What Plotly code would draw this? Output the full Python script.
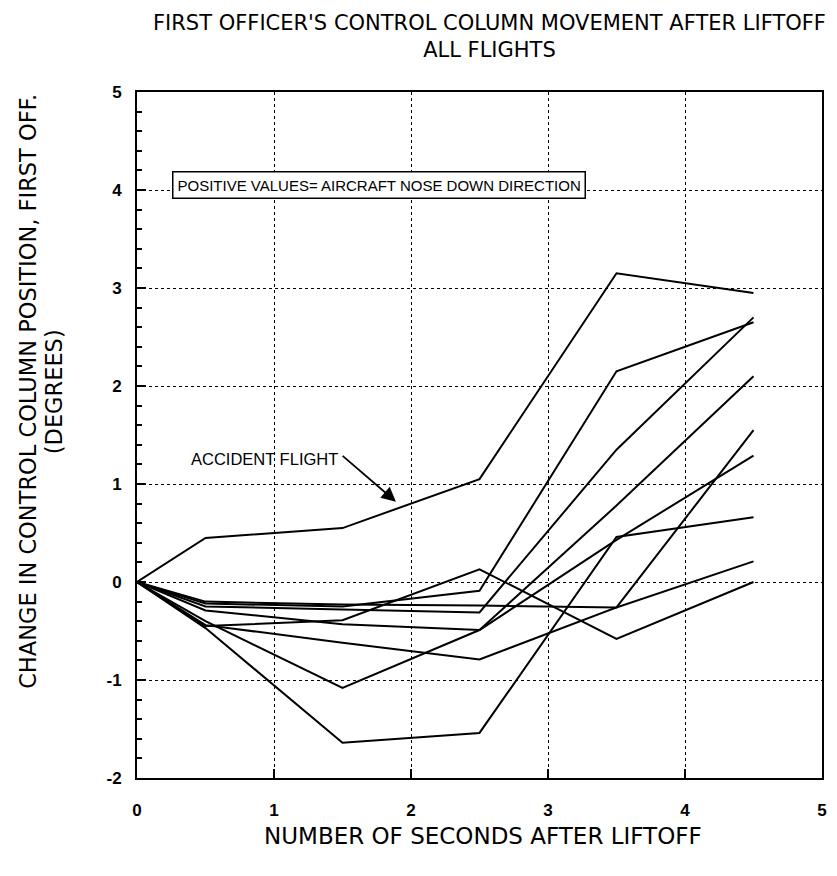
import plotly.graph_objects as go

seconds = [0, 0.5, 1.5, 2.5, 3.5, 4.5]

accident = [0, 0.45, 0.55, 1.05, 3.15, 2.95]
flight_a = [0, -0.22, -0.25, -0.09, 2.15, 2.65]
flight_b = [0, -0.25, -0.28, -0.31, 1.35, 2.70]
flight_c = [0, -0.29, -0.43, -0.49, 0.78, 2.10]
flight_d = [0, -0.44, -0.62, -0.79, -0.26, 1.55]
flight_e = [0, -0.40, -1.08, -0.49, 0.43, 1.29]
flight_f = [0, -0.47, -1.64, -1.54, 0.46, 0.66]
flight_g = [0, -0.20, -0.23, -0.24, -0.26, 0.21]
flight_h = [0, -0.45, -0.39, 0.13, -0.58, 0.00]

series = [accident, flight_a, flight_b, flight_c, flight_d,
          flight_e, flight_f, flight_g, flight_h]

x_ticks = [0, 1, 2, 3, 4, 5]
x_tick_labels = ["0", "1", "2", "3", "4", "5"]
y_ticks = [-2, -1, 0, 1, 2, 3, 4, 5]
y_tick_labels = ["-2", "-1", "0", "1", "2", "3", "4", "5"]

title_text = "FIRST OFFICER'S CONTROL COLUMN MOVEMENT AFTER LIFTOFF<br>ALL FLIGHTS"
x_title = "NUMBER OF SECONDS AFTER LIFTOFF"
y_title_line1 = "CHANGE IN CONTROL COLUMN POSITION, FIRST OFF."
y_title_line2 = "(DEGREES)"
note_text = "POSITIVE VALUES= AIRCRAFT NOSE DOWN DIRECTION"
accident_label = "ACCIDENT FLIGHT"

FONT = "Liberation Sans, Arial, Helvetica, sans-serif"
WIDE = "DejaVu Sans, Liberation Sans, sans-serif"

fig = go.Figure()
for s in series:
    fig.add_trace(go.Scatter(x=seconds, y=s, mode="lines",
                             line=dict(color="black", width=2),
                             showlegend=False, hoverinfo="skip"))

axis_common = dict(
    showline=True, linecolor="black", linewidth=2, mirror=True,
    showgrid=True, gridcolor="black", gridwidth=1.2, griddash="dot",
    zeroline=False, ticks="inside", ticklen=9, tickwidth=1.5, tickcolor="black",
    tickfont=dict(family=FONT, size=17, color="black", weight="bold"),
    automargin=False,
)

fig.update_xaxes(range=[0, 5], tickvals=x_ticks, ticktext=x_tick_labels,
                 ticklabelstandoff=16, **axis_common)
fig.update_yaxes(range=[-2, 5], tickvals=y_ticks, ticktext=y_tick_labels,
                 ticklabelstandoff=10,
                 minor=dict(dtick=0.2, ticks="inside", ticklen=5, tickwidth=1.5,
                            tickcolor="black", showgrid=False),
                 **axis_common)

# Titles as annotations for exact placement
fig.add_annotation(x=0.514, y=1.0816, xref="paper", yref="paper", text=title_text,
                   showarrow=False, xanchor="center", yanchor="middle",
                   font=dict(family=WIDE, size=21, color="black"))
fig.add_annotation(x=0.505, y=-0.084, xref="paper", yref="paper", text=x_title,
                   showarrow=False, xanchor="center", yanchor="middle",
                   font=dict(family=WIDE, size=23, color="black"))
fig.add_annotation(x=-0.159, y=0.563, xref="paper", yref="paper", text=y_title_line1,
                   showarrow=False, xanchor="center", yanchor="middle", textangle=-90,
                   font=dict(family=WIDE, size=22.5, color="black"))
fig.add_annotation(x=-0.122, y=0.563, xref="paper", yref="paper", text=y_title_line2,
                   showarrow=False, xanchor="center", yanchor="middle", textangle=-90,
                   font=dict(family=WIDE, size=22.5, color="black"))

fig.add_annotation(x=1.77, y=4.05, xref="x", yref="y", text=note_text,
                   showarrow=False, font=dict(family=FONT, size=15, color="black"),
                   bordercolor="black", borderwidth=1.5, borderpad=4, bgcolor="white")

fig.add_annotation(x=0.93, y=1.26, xref="x", yref="y", text=accident_label,
                   showarrow=False, font=dict(family=FONT, size=16.5, color="black"))
fig.add_annotation(x=1.89, y=0.82, xref="x", yref="y", ax=1.49, ay=1.30,
                   axref="x", ayref="y", text="", showarrow=True,
                   arrowhead=2, arrowsize=1.6, arrowwidth=1.8, arrowcolor="black")

fig.update_layout(
    width=821, height=860,
    margin=dict(l=129, r=7, t=84, b=90),
    paper_bgcolor="white", plot_bgcolor="white",
)

fig.write_html("out.html")
